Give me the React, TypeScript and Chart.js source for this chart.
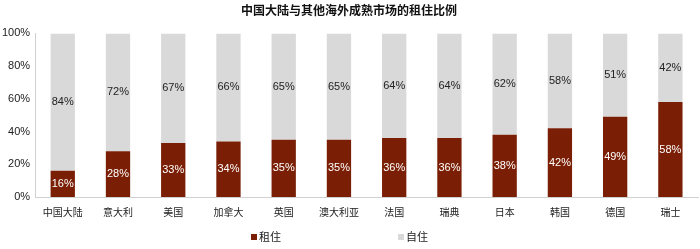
import React, { useEffect, useRef } from "react";
import { Chart, registerables } from "chart.js";

Chart.register(...registerables);

const categories = ["中国大陆", "意大利", "美国", "加拿大", "英国", "澳大利亚", "法国", "瑞典", "日本", "韩国", "德国", "瑞士"];
const rentValues = [16, 28, 33, 34, 35, 35, 36, 36, 38, 42, 49, 58];
const ownValues = [84, 72, 67, 66, 65, 65, 64, 64, 62, 58, 51, 42];
const yTicks = ["0%", "20%", "40%", "60%", "80%", "100%"];
const titleText = "中国大陆与其他海外成熟市场的租住比例";
const seriesNames = ["租住", "自住"];
const seriesColors = ["#7A1F05", "#D9D9D9"];

const labelPlugin = {
  id: "barLabels",
  afterDatasetsDraw(chart: any) {
    const ctx = chart.ctx;
    ctx.save();
    ctx.font = "11px 'Liberation Sans', Arial, sans-serif";
    ctx.textAlign = "center";
    ctx.textBaseline = "middle";
    chart.data.datasets.forEach((ds: any, di: number) => {
      const meta = chart.getDatasetMeta(di);
      meta.data.forEach((bar: any, i: number) => {
        const y = (bar.y + bar.base) / 2;
        ctx.fillStyle = di === 0 ? "#ffffff" : "#222222";
        ctx.fillText(ds.data[i] + "%", bar.x, y);
      });
    });
    ctx.restore();
  },
};

const legendPlugin = {
  id: "customLegend",
  afterDraw(chart: any) {
    const ctx = chart.ctx;
    ctx.save();
    ctx.font = "11px 'Noto Sans CJK SC'";
    ctx.textBaseline = "middle";
    const y = 237;
    const xs = [251, 398];
    chart.data.datasets.forEach((ds: any, i: number) => {
      ctx.fillStyle = seriesColors[i];
      ctx.fillRect(xs[i], y - 3, 6, 6);
      ctx.fillStyle = "#222";
      ctx.fillText(ds.label, xs[i] + 8, y);
    });
    ctx.restore();
  },
};

export default function App() {
  const ref = useRef<HTMLCanvasElement>(null);
  useEffect(() => {
    document.body.style.margin = "0";
    const chart = new Chart(ref.current!, {
      type: "bar",
      data: {
        labels: categories,
        datasets: [
          { label: seriesNames[0], data: rentValues, backgroundColor: seriesColors[0], barPercentage: 0.44, categoryPercentage: 1 },
          { label: seriesNames[1], data: ownValues, backgroundColor: seriesColors[1], barPercentage: 0.44, categoryPercentage: 1 },
        ],
      },
      options: {
        responsive: false,
        animation: false,
        layout: { padding: { left: 0, right: 2, top: 0, bottom: 27 } },
        plugins: {
          title: {
            display: true,
            text: titleText,
            color: "#111",
            font: { family: "'Noto Sans CJK SC'", size: 12, weight: "bold" },
            padding: { top: 3, bottom: 16 },
          },
          legend: { display: false },
          tooltip: { enabled: false },
        },
        scales: {
          x: {
            stacked: true,
            grid: { display: false, drawTicks: true, tickLength: 5, color: "#d0d0d0", offset: true },
            border: { color: "#d0d0d0" },
            ticks: { color: "#222", font: { family: "'Noto Sans CJK SC'", size: 10 }, maxRotation: 0, padding: 4 },
          },
          y: {
            stacked: true,
            min: 0,
            max: 100,
            grid: { display: false, drawTicks: true, tickLength: 3, color: "#d0d0d0" },
            border: { color: "#d0d0d0" },
            ticks: {
              stepSize: 20,
              autoSkip: false,
              padding: 2,
              color: "#222",
              font: { family: "'Liberation Sans', Arial, sans-serif", size: 11 },
              callback: (_v: any, i: number) => yTicks[i],
            },
          },
        },
      },
      plugins: [labelPlugin, legendPlugin],
    });
    return () => chart.destroy();
  }, []);
  return <canvas ref={ref} width={700} height={249} />;
}
